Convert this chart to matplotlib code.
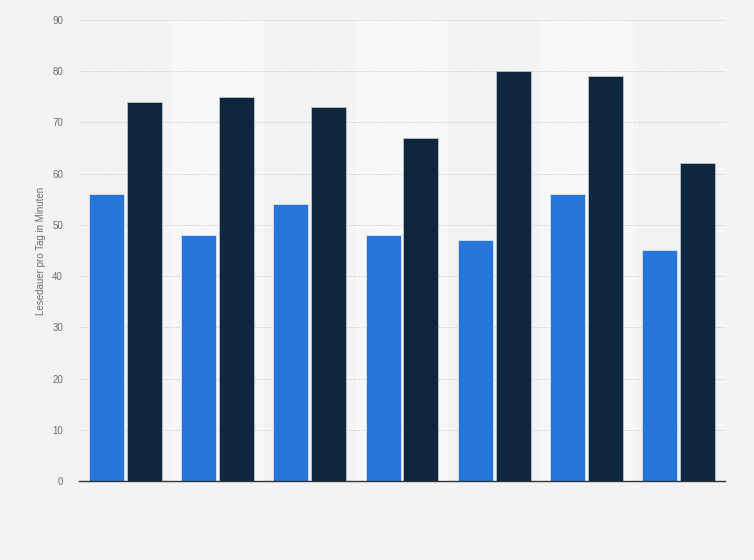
import matplotlib
matplotlib.use("Agg")
import matplotlib.pyplot as plt
import numpy as np

plt.rcParams["font.family"] = ["Liberation Sans", "DejaVu Sans"]

categories = ["1", "2", "3", "4", "5", "6", "7"]
series_a = [56, 48, 54, 48, 47, 56, 45]
series_b = [74, 75, 73, 67, 80, 79, 62]
yticks = [0, 10, 20, 30, 40, 50, 60, 70, 80, 90]
ylabel = "Lesedauer pro Tag in Minuten"

bg = "#f3f3f3"
fig = plt.figure(figsize=(7.54, 5.6), dpi=100, facecolor=bg)
ax = fig.add_axes([79/754, 1-481/560, (725-79)/754, (481-20)/560])
ax.set_facecolor(bg)

x = np.arange(len(categories))
for i in x:
    if i % 2 == 1:
        ax.axvspan(i-0.5, i+0.5, ymin=0, ymax=1, color="#f8f8f8", zorder=0, lw=0)

w = 0.38
ax.bar(x-0.205, series_a, width=w, color="#2775d9", edgecolor="#e8eef6", linewidth=0.5, zorder=3)
ax.bar(x+0.205, series_b, width=w, color="#10263e", edgecolor="#c8ccd2", linewidth=0.5, zorder=3)

ax.set_xlim(-0.5, len(categories)-0.5)
ax.set_ylim(0, 90)
ax.set_yticks(yticks)
ax.set_xticks([])
ax.yaxis.grid(True, linestyle=(0, (1, 1.5)), color="#c9c9c9", linewidth=0.7, zorder=1)
ax.set_axisbelow(True)
for s in ["top", "right", "left"]:
    ax.spines[s].set_visible(False)
ax.spines["bottom"].set_color("#333333")
ax.spines["bottom"].set_linewidth(1.0)
ax.spines["bottom"].set_zorder(4)
ax.tick_params(axis="y", length=0, pad=11.5, labelsize=7, labelcolor="#6e6e6e")
ax.set_ylabel(ylabel, fontsize=7, color="#6e6e6e", labelpad=4.5)

fig.savefig("out.png", dpi=100, facecolor=bg)
